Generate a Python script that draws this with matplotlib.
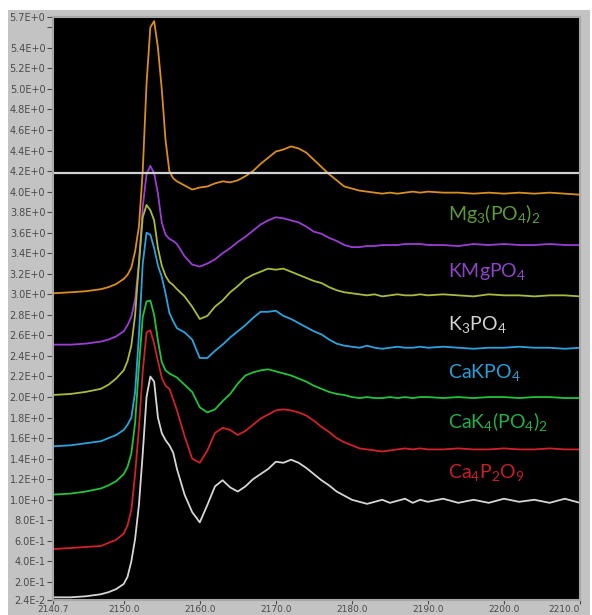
"""XANES-style stacked spectra, LabVIEW-like dark graph."""

import matplotlib

matplotlib.use("Agg")
import matplotlib.pyplot as plt
from matplotlib.patches import Rectangle

plt.rcParams["mathtext.fontset"] = "custom"
plt.rcParams["mathtext.rm"] = "Lato"
plt.rcParams["mathtext.it"] = "Lato:italic"

# ---- data ----
energy = [
    2140.7, 2143, 2145, 2147, 2148, 2149, 2150, 2150.5, 2151, 2151.5,
    2152, 2152.5, 2153, 2153.5, 2154, 2154.5, 2155, 2155.5, 2156, 2156.5,
    2157, 2158, 2159, 2160, 2161, 2162, 2163, 2164, 2165, 2166,
    2167, 2168, 2169, 2170, 2171, 2172, 2173, 2174, 2175, 2176,
    2177, 2178, 2179, 2180, 2181, 2182, 2183, 2184, 2185, 2186,
    2187, 2188, 2189, 2190, 2192, 2194, 2196, 2198, 2200, 2202,
    2204, 2206, 2208, 2210,
]

mg3po42 = [
    3.01, 3.02, 3.03, 3.05, 3.07, 3.10, 3.15, 3.19, 3.26, 3.42,
    3.66, 4.20, 5.05, 5.60, 5.66, 5.40, 5.00, 4.50, 4.20, 4.13,
    4.10, 4.06, 4.02, 4.04, 4.05, 4.08, 4.10, 4.09, 4.11, 4.15,
    4.20, 4.27, 4.33, 4.39, 4.41, 4.44, 4.42, 4.38, 4.31, 4.24,
    4.17, 4.11, 4.05, 4.03, 4.01, 4.00, 3.99, 3.98, 3.99, 3.98,
    3.99, 4.00, 3.99, 4.00, 3.99, 3.99, 3.98, 3.99, 3.98, 3.99,
    3.98, 3.99, 3.98, 3.97,
]
kmgpo4 = [
    2.51, 2.51, 2.52, 2.54, 2.56, 2.59, 2.64, 2.70, 2.78, 2.95,
    3.30, 3.85, 4.17, 4.25, 4.18, 3.98, 3.70, 3.58, 3.54, 3.52,
    3.49, 3.37, 3.29, 3.27, 3.30, 3.34, 3.40, 3.45, 3.51, 3.56,
    3.62, 3.68, 3.72, 3.75, 3.74, 3.72, 3.70, 3.66, 3.61, 3.59,
    3.55, 3.52, 3.48, 3.46, 3.46, 3.47, 3.47, 3.48, 3.48, 3.48,
    3.49, 3.49, 3.49, 3.48, 3.48, 3.47, 3.49, 3.48, 3.49, 3.48,
    3.48, 3.49, 3.48, 3.48,
]
k3po4 = [
    2.02, 2.03, 2.05, 2.08, 2.12, 2.18, 2.26, 2.35, 2.50, 2.80,
    3.30, 3.75, 3.87, 3.82, 3.72, 3.45, 3.28, 3.18, 3.12, 3.09,
    3.05, 2.98, 2.88, 2.76, 2.79, 2.88, 2.94, 3.02, 3.08, 3.15,
    3.19, 3.22, 3.25, 3.24, 3.25, 3.22, 3.19, 3.16, 3.13, 3.11,
    3.07, 3.04, 3.02, 3.01, 3.00, 2.99, 3.00, 2.98, 2.99, 3.00,
    2.99, 2.99, 3.00, 2.99, 3.00, 2.99, 2.98, 3.00, 2.99, 2.99,
    2.98, 2.99, 2.99, 2.98,
]
cakpo4 = [
    1.52, 1.53, 1.55, 1.57, 1.60, 1.63, 1.68, 1.73, 1.80, 2.05,
    2.60, 3.30, 3.60, 3.58, 3.45, 3.28, 3.17, 3.01, 2.82, 2.74,
    2.67, 2.63, 2.56, 2.38, 2.38, 2.45, 2.51, 2.58, 2.64, 2.70,
    2.77, 2.83, 2.83, 2.84, 2.79, 2.76, 2.72, 2.68, 2.64, 2.61,
    2.56, 2.52, 2.50, 2.49, 2.48, 2.50, 2.48, 2.47, 2.48, 2.49,
    2.48, 2.48, 2.49, 2.48, 2.49, 2.48, 2.47, 2.48, 2.48, 2.49,
    2.48, 2.48, 2.47, 2.48,
]
cak4po42 = [
    1.05, 1.06, 1.08, 1.11, 1.14, 1.18, 1.25, 1.32, 1.45, 1.75,
    2.30, 2.78, 2.93, 2.94, 2.80, 2.55, 2.34, 2.26, 2.23, 2.21,
    2.19, 2.12, 2.05, 1.90, 1.85, 1.88, 1.96, 2.03, 2.13, 2.21,
    2.24, 2.26, 2.27, 2.25, 2.23, 2.21, 2.18, 2.15, 2.11, 2.08,
    2.05, 2.03, 2.02, 2.00, 1.99, 2.00, 1.99, 1.99, 2.00, 1.99,
    2.00, 1.99, 2.00, 2.00, 1.99, 2.00, 1.99, 2.00, 2.00, 1.99,
    2.00, 2.00, 1.99, 1.99,
]
ca4p2o9 = [
    0.52, 0.53, 0.54, 0.55, 0.58, 0.61, 0.67, 0.75, 0.90, 1.25,
    1.70, 2.25, 2.63, 2.65, 2.52, 2.35, 2.19, 2.11, 2.08, 1.98,
    1.87, 1.62, 1.40, 1.36, 1.48, 1.65, 1.70, 1.68, 1.63, 1.67,
    1.73, 1.79, 1.83, 1.87, 1.88, 1.87, 1.85, 1.82, 1.77, 1.71,
    1.66, 1.60, 1.56, 1.53, 1.50, 1.49, 1.48, 1.47, 1.48, 1.49,
    1.50, 1.49, 1.50, 1.49, 1.49, 1.50, 1.49, 1.49, 1.50, 1.49,
    1.49, 1.50, 1.49, 1.49,
]
unlabeled = [
    0.05, 0.05, 0.06, 0.08, 0.10, 0.13, 0.18, 0.25, 0.40, 0.62,
    0.95, 1.45, 2.00, 2.20, 2.15, 1.80, 1.65, 1.58, 1.53, 1.46,
    1.30, 1.05, 0.88, 0.78, 0.95, 1.13, 1.19, 1.12, 1.08, 1.13,
    1.20, 1.25, 1.30, 1.37, 1.36, 1.39, 1.36, 1.31, 1.25, 1.19,
    1.14, 1.08, 1.04, 1.00, 0.98, 0.96, 0.98, 1.00, 0.97, 0.99,
    1.01, 0.97, 1.00, 0.98, 1.01, 0.97, 1.00, 0.97, 1.01, 0.98,
    1.00, 0.97, 1.01, 0.97,
]

series = [mg3po42, kmgpo4, k3po4, cakpo4, cak4po42, ca4p2o9, unlabeled]
series_colors = ["#d98e1e", "#9a3ed4", "#abba3a", "#2ba3dc", "#22c33a", "#d0222a", "#d6d6d6"]

labels = [
    "Mg$_{3}$(PO$_{4}$)$_{2}$",
    "KMgPO$_{4}$",
    "K$_{3}$PO$_{4}$",
    "CaKPO$_{4}$",
    "CaK$_{4}$(PO$_{4}$)$_{2}$",
    "Ca$_{4}$P$_{2}$O$_{9}$",
]
label_colors = ["#5e9a3c", "#8e44c8", "#d4d4d4", "#2a9fd6", "#22b04a", "#c8202a"]
label_y = [3.72, 3.17, 2.65, 2.185, 1.70, 1.21]
label_x = 2192.6

cursor_y = 4.18

x_ticks = [2140.7, 2150.0, 2160.0, 2170.0, 2180.0, 2190.0, 2200.0, 2210.0]
y_ticks = [0.024, 0.2, 0.4, 0.6, 0.8, 1.0, 1.2, 1.4, 1.6, 1.8, 2.0, 2.2, 2.4, 2.6,
           2.8, 3.0, 3.2, 3.4, 3.6, 3.8, 4.0, 4.2, 4.4, 4.6, 4.8, 5.0, 5.2, 5.4, 5.6, 5.7]
y_tick_labels = ["2.4E-2", "2.0E-1", "4.0E-1", "6.0E-1", "8.0E-1", "1.0E+0", "1.2E+0",
                 "1.4E+0", "1.6E+0", "1.8E+0", "2.0E+0", "2.2E+0", "2.4E+0", "2.6E+0",
                 "2.8E+0", "3.0E+0", "3.2E+0", "3.4E+0", "3.6E+0", "3.8E+0", "4.0E+0",
                 "4.2E+0", "4.4E+0", "4.6E+0", "4.8E+0", "5.0E+0", "5.2E+0", "5.4E+0",
                 "", "5.7E+0"]

# ---- figure ----
W, H = 592, 615
fig = plt.figure(figsize=(W / 100, H / 100), dpi=100, facecolor="white")

# grey LabVIEW-style panel behind the graph
fig.patches.append(
    Rectangle((8 / W, 0), (590 - 8) / W, (H - 10) / H, transform=fig.transFigure,
              facecolor="#c3c3c3", edgecolor="none", zorder=-10)
)

ax = fig.add_axes([53 / W, (H - 600) / H, (580 - 53) / W, (600 - 17) / H])
ax.set_facecolor("black")

for values, color in zip(series, series_colors):
    ax.plot(energy, values, color=color, linewidth=1.3, solid_joinstyle="round")

ax.axhline(cursor_y, color="#d2d2d2", linewidth=1.6)

for text, color, y in zip(labels, label_colors, label_y):
    ax.text(label_x, y, text, color=color, fontsize=14, family="Lato",
            ha="left", va="baseline")

ax.set_xlim(x_ticks[0], x_ticks[-1])
ax.set_ylim(y_ticks[0], y_ticks[-1])
ax.set_xticks(x_ticks)
ax.set_xticklabels([f"{t:.1f}" for t in x_ticks])
ax.set_yticks(y_ticks)
ax.set_yticklabels(y_tick_labels)
ax.tick_params(axis="both", colors="#4a4a4a", labelcolor="#4a4a4a",
               labelsize=7, length=4, width=0.8, direction="out", pad=1.5)
ax.tick_params(axis="x", labelsize=6.5, length=3, pad=0.5)
ax.get_xticklabels()[-1].set_horizontalalignment("right")

for spine in ax.spines.values():
    spine.set_color("#a8a8a8")
    spine.set_linewidth(1.5)

fig.savefig("out.png", dpi=100, facecolor=fig.get_facecolor())
